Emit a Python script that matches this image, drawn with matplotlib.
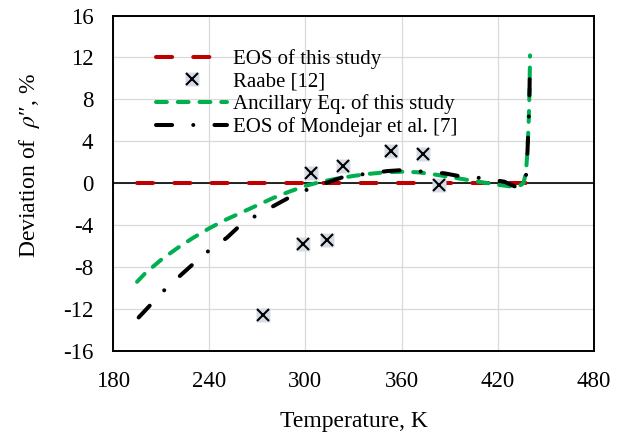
import numpy as np
import matplotlib
matplotlib.use("Agg")
import matplotlib.pyplot as plt

plt.rcParams['font.family'] = ['Liberation Serif', 'DejaVu Serif']
plt.rcParams['mathtext.fontset'] = 'stix'
plt.rcParams['axes.unicode_minus'] = False

# EOS of this study (zero deviation, reference)
eos_t = [195, 440]
eos_dev = [0, 0]

# Raabe [12] experimental points
raabe_t = [273.4, 298.3, 303.5, 313.3, 323.3, 353.4, 373.2, 383.6]
raabe_dev = [-12.6, -5.8, 1.0, -5.4, 1.6, 3.1, 2.8, -0.2]

# Ancillary equation of this study
anc_t = [195, 200, 210, 220, 230, 240, 250, 260, 270, 280, 290, 300, 310, 320,
         330, 340, 350, 360, 370, 380, 390, 400, 410, 420, 428, 433, 436,
         437.5, 438.5, 439.3, 439.8, 440.1]
anc_dev = [-9.4, -8.6, -7.3, -6.2, -5.2, -4.3, -3.5, -2.8, -2.1, -1.4, -0.8,
           -0.25, 0.15, 0.45, 0.7, 0.9, 1.05, 1.1, 1.05, 0.85, 0.6, 0.35, 0.1,
           -0.15, -0.3, -0.3, 0.0, 1.0, 3.0, 6.0, 9.0, 12.2]

# EOS of Mondejar et al. [7]
mond_t = [196, 204, 212, 222, 230, 240, 251, 258, 269, 281, 290, 302, 314,
          324, 337, 351, 361, 374, 387, 398, 410, 424, 433.5, 437.4, 438.5,
          439.3, 439.8, 440]
mond_dev = [-12.8, -11.5, -10.2, -8.8, -7.7, -6.4, -5.2, -4.2, -3.1, -2.1,
            -1.35, -0.55, 0.08, 0.62, 0.88, 1.16, 1.26, 1.1, 0.94, 0.62, 0.5,
            0.15, -0.5, 0.2, 3.0, 6.0, 9.0, 11.5]

fig = plt.figure(figsize=(6.26, 4.34), dpi=100)
ax = fig.add_axes([113/626, 1 - 351/434, 481/626, 335.5/434])

ax.grid(True, color='#d9d9d9', lw=0.9)
ax.set_axisbelow(True)
ax.axhline(0, color='black', lw=1.2, zorder=1.8)

lw = 2.9
red, = ax.plot(eos_t, eos_dev, color='#c00000', lw=lw, dashes=[4, 5.25],
               dash_capstyle='round', zorder=2)
sq, = ax.plot(raabe_t, raabe_dev, ls='none', marker='s', ms=9.5,
              mfc='#d6dce5', mec='none', zorder=3)
xx, = ax.plot(raabe_t, raabe_dev, ls='none', marker='x', ms=8, mew=1.5,
              color='black', zorder=3)
grn, = ax.plot(anc_t, anc_dev, color='#00b050', lw=lw, dashes=[2.7, 2.7],
               dash_capstyle='round', zorder=4)
blk, = ax.plot(mond_t, mond_dev, color='black', lw=lw,
               dashes=[4, 5.25, 0.01, 5.25], dash_capstyle='round', zorder=5)

ax.set_xlim(180, 480)
ax.set_ylim(-16, 16)
ax.set_xticks(np.arange(180, 481, 60))
ax.set_yticks(np.arange(-16, 17, 4))
ax.tick_params(length=0, labelsize=16.5)
ax.tick_params(axis='x', pad=14.4)
ax.tick_params(axis='y', pad=14.2)
for s in ax.spines.values():
    s.set_linewidth(1.4)
    s.set_zorder(6)

ax.set_xlabel('Temperature, K', fontsize=17, labelpad=13.5)
ax.set_ylabel("Deviation of  $\\rho$\u2033, %", fontsize=17)
ax.yaxis.set_label_coords(-0.147, 0.554)

ax.legend([red, (sq, xx), grn, blk],
          ['EOS of this study', 'Raabe [12]', 'Ancillary Eq. of this study',
           'EOS of Mondejar et al. [7]'],
          loc='upper left', bbox_to_anchor=(0.0894, 0.90), frameon=False,
          fontsize=15, handlelength=3.41, handletextpad=0.3, labelspacing=0.14,
          borderpad=0, borderaxespad=0)

fig.savefig('out.png', dpi=100)
